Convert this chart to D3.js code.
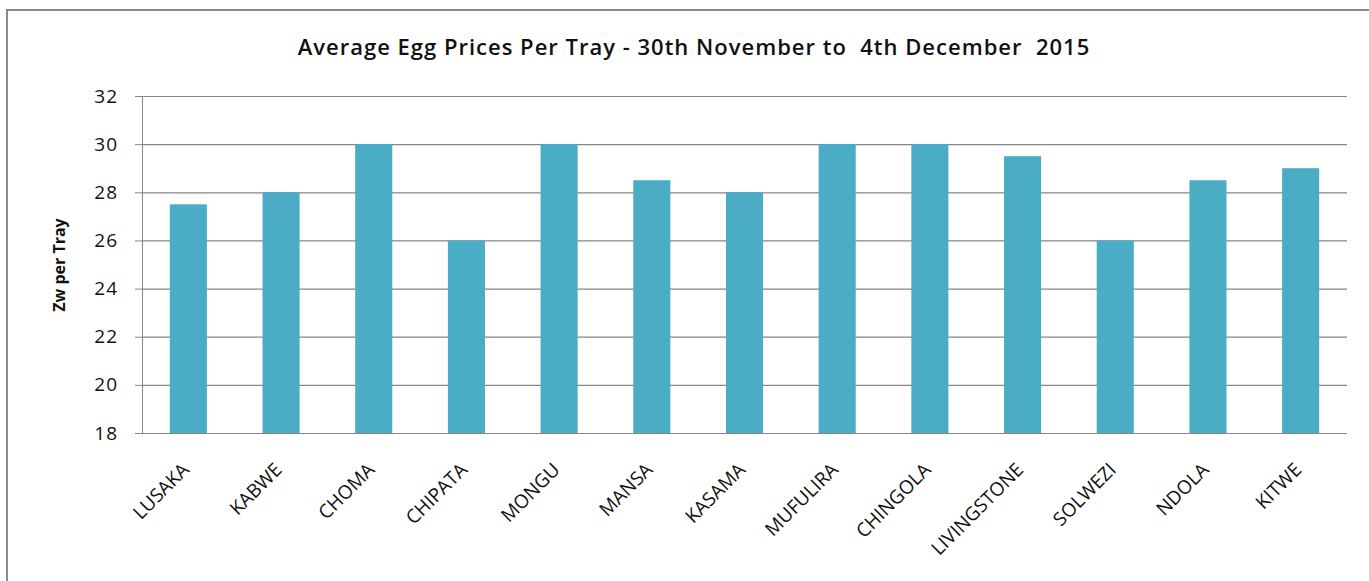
<!DOCTYPE html>
<html>
<head>
<meta charset="utf-8">
<script src="https://cdn.jsdelivr.net/npm/d3@7"></script>
<style>
  body { margin: 0; background: #fff; }
  text { font-family: "Open Sans", sans-serif; fill: #111; }
</style>
</head>
<body>
<script>
const towns = ["LUSAKA", "KABWE", "CHOMA", "CHIPATA", "MONGU", "MANSA", "KASAMA",
  "MUFULIRA", "CHINGOLA", "LIVINGSTONE", "SOLWEZI", "NDOLA", "KITWE"];
const prices = [27.5, 28, 30, 26, 30, 28.5, 28, 30, 30, 29.5, 26, 28.5, 29];
const yTicks = [18, 20, 22, 24, 26, 28, 30, 32];

const width = 1369, height = 581;
const margin = { top: 96, right: 22, bottom: 148, left: 142 };

const svg = d3.select("body").append("svg")
  .attr("width", width)
  .attr("height", height);

// chart border
svg.append("rect")
  .attr("x", 7).attr("y", 10)
  .attr("width", 1400).attr("height", 650)
  .attr("fill", "none")
  .attr("stroke", "#8c8c8c")
  .attr("stroke-width", 2);

const x = d3.scaleBand()
  .domain(towns)
  .range([margin.left, width - margin.right])
  .paddingInner(0.6)
  .paddingOuter(0.3);

const y = d3.scaleLinear()
  .domain([18, 32])
  .range([height - margin.bottom, margin.top]);

// gridlines + y axis
const yAxis = svg.append("g")
  .attr("transform", "translate(" + margin.left + ",0)")
  .call(d3.axisLeft(y).tickValues(yTicks).tickSize(7).tickSizeOuter(0).tickPadding(17));
yAxis.select(".domain").attr("stroke", "#868686");
yAxis.selectAll(".tick line").attr("stroke", "#868686");
yAxis.selectAll(".tick text")
  .style("font-size", "19px")
  .style("letter-spacing", "1px")
  .attr("fill", "#111");

svg.append("g")
  .selectAll("line")
  .data(yTicks)
  .enter()
  .append("line")
  .attr("x1", margin.left)
  .attr("x2", width - margin.right)
  .attr("y1", function (d) { return y(d) + 0.5; })
  .attr("y2", function (d) { return y(d) + 0.5; })
  .attr("stroke", "#868686")
  .attr("stroke-width", 1.2);

// bars
svg.append("g")
  .selectAll("rect")
  .data(prices)
  .enter()
  .append("rect")
  .attr("x", function (d, i) { return x(towns[i]); })
  .attr("y", function (d) { return y(d); })
  .attr("width", x.bandwidth())
  .attr("height", function (d) { return y(18) - y(d); })
  .attr("fill", "#4bacc6");

// x labels
svg.append("g")
  .selectAll("text")
  .data(towns)
  .enter()
  .append("text")
  .attr("transform", function (d) {
    return "translate(" + (x(d) + x.bandwidth() / 2 + 2) + "," + (y(18) + 38) + ") rotate(-45)";
  })
  .attr("text-anchor", "end")
  .style("font-size", "19px")
  .text(function (d) { return d; });

// title
svg.append("text")
  .attr("x", 694)
  .attr("y", 55)
  .attr("text-anchor", "middle")
  .style("font-size", "22px")
  .style("font-weight", "600")
  .style("letter-spacing", "1px")
  .style("white-space", "pre")
  .attr("xml:space", "preserve")
  .text("Average Egg Prices Per Tray - 30th November to  4th December  2015");

// y axis title
svg.append("text")
  .attr("transform", "translate(65,265) rotate(-90)")
  .attr("text-anchor", "middle")
  .style("font-size", "16px")
  .style("font-weight", "700")
  .text("Zw per Tray");
</script>
</body>
</html>
